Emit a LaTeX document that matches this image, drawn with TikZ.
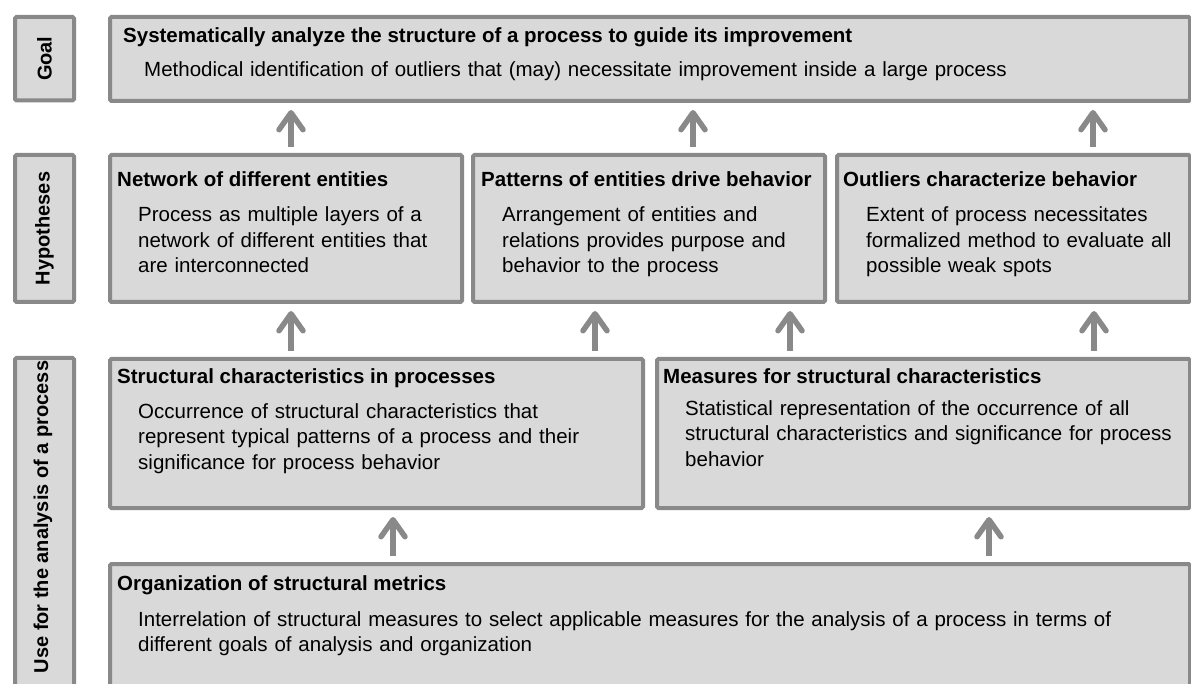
\documentclass[tikz,border=0pt]{standalone}
\usepackage{fontspec}
\setmainfont{Liberation Sans}
\usetikzlibrary{arrows.meta}

\definecolor{boxfill}{HTML}{D9D9D9}
\definecolor{boxline}{HTML}{898989}

\tikzset{
  box/.style={draw=boxline, fill=boxfill, line width=4pt, rounded corners=1.5pt,
    inner sep=0pt, anchor=north west},
  sidelabel/.style={rotate=90, inner sep=0pt, font=\fontsize{20}{24}\selectfont\bfseries},
  boxtitle/.style={anchor=base west, inner sep=0pt, font=\fontsize{20.5}{24}\selectfont\bfseries},
  boxbody/.style={anchor=base west, inner sep=0pt, text width=1000pt, align=left,
    font=\fontsize{20.5}{25.5}\selectfont},
  uparrow/.style={draw=boxline, line width=5.5pt,
    -{Straight Barb[length=17pt,width=24pt,round]}, shorten <=6pt, shorten >=7pt}
}

\begin{document}
\begin{tikzpicture}[x=1pt,y=-1pt]
	\useasboundingbox (0,0) rectangle (1191,684);
	\clip (0,0) rectangle (1191,684);

	% labels on the left
	\node[box, minimum width=59pt, minimum height=83.5pt] (goalLbl) at (13,15) {};
	\node[box, minimum width=59pt, minimum height=147pt] (hypLbl) at (13,153) {};
	\node[box, minimum width=59pt, minimum height=380pt] (useLbl) at (13,356) {};
	\node[sidelabel] (goalLblTxt) at (goalLbl.center) {Goal};
	\node[sidelabel] (hypLblTxt) at (hypLbl.center) {Hypotheses};
	\node[sidelabel] (useLblTxt) at (43,517) {Use for the analysis of a process};

	% boxes
	\node[box, minimum width=1080pt, minimum height=84pt] (goal) at (108,15) {};
	\node[box, minimum width=352pt, minimum height=147pt] (hypA) at (108,153) {};
	\node[box, minimum width=352pt, minimum height=147pt] (hypB) at (471,153) {};
	\node[box, minimum width=353pt, minimum height=147pt] (hypC) at (835,153) {};
	\node[box, minimum width=533pt, minimum height=149pt] (strA) at (108,357) {};
	\node[box, minimum width=533pt, minimum height=149pt] (strB) at (655,357) {};
	\node[box, minimum width=1080pt, minimum height=160pt] (org) at (108,562) {};

	% texts
	\node[boxtitle] (goalT) at (123,43) {Systematically analyze the structure of a process to guide its improvement};
	\node[boxbody] (goalB) at (144,77) {Methodical identification of outliers that (may) necessitate improvement inside a large process};

	\node[boxtitle] (hypAT) at (117,187) {Network of different entities};
	\node[boxbody] (hypAB) at (138,222) {Process as multiple layers of a\\network of different entities that\\are interconnected};

	\node[boxtitle] (hypBT) at (481,187) {Patterns of entities drive behavior};
	\node[boxbody] (hypBB) at (502,222) {Arrangement of entities and\\relations provides purpose and\\behavior to the process};

	\node[boxtitle] (hypCT) at (843,187) {Outliers characterize behavior};
	\node[boxbody] (hypCB) at (866,222) {Extent of process necessitates\\formalized method to evaluate all\\possible weak spots};

	\node[boxtitle] (strAT) at (117,383) {Structural characteristics in processes};
	\node[boxbody] (strAB) at (138,418) {Occurrence of structural characteristics that\\represent typical patterns of a process and their\\significance for process behavior};

	\node[boxtitle] (strBT) at (663,383) {Measures for structural characteristics};
	\node[boxbody] (strBB) at (685,415) {Statistical representation of the occurrence of all\\structural characteristics and significance for process\\behavior};

	\node[boxtitle] (orgT) at (117,590) {Organization of structural metrics};
	\node[boxbody] (orgB) at (138,626) {Interrelation of structural measures to select applicable measures for the analysis of a process in terms of\\different goals of analysis and organization};

	% arrows
	\foreach \lo/\hi/\x in {hypA/goal/291, hypB/goal/693, hypC/goal/1093,
	    strA/hypA/291, strA/hypB/595, strB/hypB/790, strB/hypC/1094,
	    org/strA/393, org/strB/989}
	  \draw[uparrow] (\x,0 |- \lo.north) -- (\x,0 |- \hi.south);
\end{tikzpicture}
\end{document}
